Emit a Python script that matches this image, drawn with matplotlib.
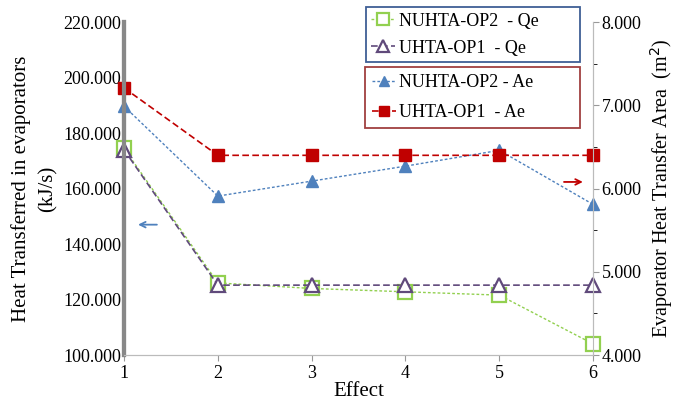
import matplotlib.pyplot as plt
from matplotlib.ticker import MultipleLocator

plt.rcParams['font.family'] = ['Liberation Serif', 'DejaVu Serif']

effect = [1, 2, 3, 4, 5, 6]
qe_nuhta = [174.5, 126.0, 124.0, 122.8, 121.6, 104.0]
qe_uhta = [174.0, 125.2, 125.2, 125.2, 125.2, 125.2]
ae_nuhta = [6.99, 5.91, 6.09, 6.27, 6.46, 5.81]
ae_uhta = [7.21, 6.40, 6.40, 6.40, 6.40, 6.40]

fig = plt.figure(figsize=(6.74, 4.03), dpi=100)
ax = fig.add_axes([0.184, 0.119, 0.696, 0.826])
ax2 = ax.twinx()

l1, = ax.plot(effect, qe_nuhta, linestyle=(0, (2, 1.5)), linewidth=1, color='#92D050',
              marker='s', markersize=10, markerfacecolor='white', markeredgewidth=1.6,
              markeredgecolor='#92D050', label='NUHTA-OP2  - Qe', zorder=3, clip_on=False)
l2, = ax.plot(effect, qe_uhta, linestyle=(0, (4, 2)), linewidth=1.2, color='#604A7B',
              marker='^', markersize=10, markerfacecolor='white', markeredgewidth=1.6,
              markeredgecolor='#604A7B', label='UHTA-OP1  - Qe', zorder=4, clip_on=False)
l3, = ax2.plot(effect, ae_nuhta, linestyle=(0, (2, 1.5)), linewidth=1, color='#4F81BD',
               marker='^', markersize=9, markerfacecolor='#4F81BD', markeredgecolor='#4F81BD',
               label='NUHTA-OP2 - Ae', clip_on=False)
l4, = ax2.plot(effect, ae_uhta, linestyle=(0, (4, 2)), linewidth=1.2, color='#C00000',
               marker='s', markersize=9, markerfacecolor='#C00000', markeredgecolor='#C00000',
               label='UHTA-OP1  - Ae', clip_on=False)

ax.set_xlim(1, 6)
ax.set_ylim(100, 220)
ax2.set_ylim(4, 8)
ax.set_xticks(effect)
ax.yaxis.set_major_locator(MultipleLocator(20))
ax.set_yticklabels(['%.3f' % v for v in ax.get_yticks()])
ax2.yaxis.set_major_locator(MultipleLocator(1))
ax2.yaxis.set_minor_locator(MultipleLocator(0.5))
ax2.set_yticklabels(['%.3f' % v for v in ax2.get_yticks()])

for a in (ax, ax2):
    a.spines['top'].set_visible(False)
    a.tick_params(labelsize=13, colors='#999999', labelcolor='black')
    a.spines['bottom'].set_color('#BBBBBB')
    a.spines['right'].set_color('#BBBBBB')
    a.spines['left'].set_color('#888888')
ax.spines['left'].set_linewidth(3)
ax2.spines['left'].set_linewidth(3)
ax.tick_params(axis='y', length=0, pad=2)
ax2.tick_params(axis='y', which='both', direction='out', length=4, pad=2)
ax2.tick_params(axis='y', which='minor', length=3)
ax.tick_params(axis='x', length=4, pad=3)

ax.set_xlabel('Effect', fontsize=15, labelpad=0)
ax.set_ylabel('Heat Transferred in evaporators\n(kJ/s)', fontsize=15, labelpad=4,
              linespacing=1.5)
ax2.set_ylabel('Evaporator Heat Transfer Area  (m$^2$)', fontsize=14.5, labelpad=5)

leg1 = ax2.legend(handles=[l1, l2], loc='upper left', mode='expand',
                  bbox_to_anchor=(0.516, 0.877, 0.456, 0.168),
                  fontsize=13, fancybox=False, framealpha=1, edgecolor='#3F5F95',
                  handlelength=1.3, handletextpad=0.2, borderpad=0.3, labelspacing=0.55,
                  borderaxespad=0, markerscale=0.8)
leg1.get_frame().set_linewidth(1.3)
ax2.add_artist(leg1)
leg2 = ax2.legend(handles=[l3, l4], loc='upper left', mode='expand',
                  bbox_to_anchor=(0.514, 0.685, 0.458, 0.18),
                  fontsize=13, fancybox=False, framealpha=1, edgecolor='#A04040',
                  handlelength=1.3, handletextpad=0.2, borderpad=0.4, labelspacing=0.7,
                  borderaxespad=0, markerscale=0.8)
leg2.get_frame().set_linewidth(1.3)

ax.annotate('', xy=(1.12, 147), xytext=(1.38, 147),
            arrowprops=dict(arrowstyle='->', color='#4F81BD', lw=1.3))
ax2.annotate('', xy=(5.92, 6.08), xytext=(5.66, 6.08),
             arrowprops=dict(arrowstyle='->', color='#C00000', lw=1.3))

fig.savefig('out.png', dpi=100)
